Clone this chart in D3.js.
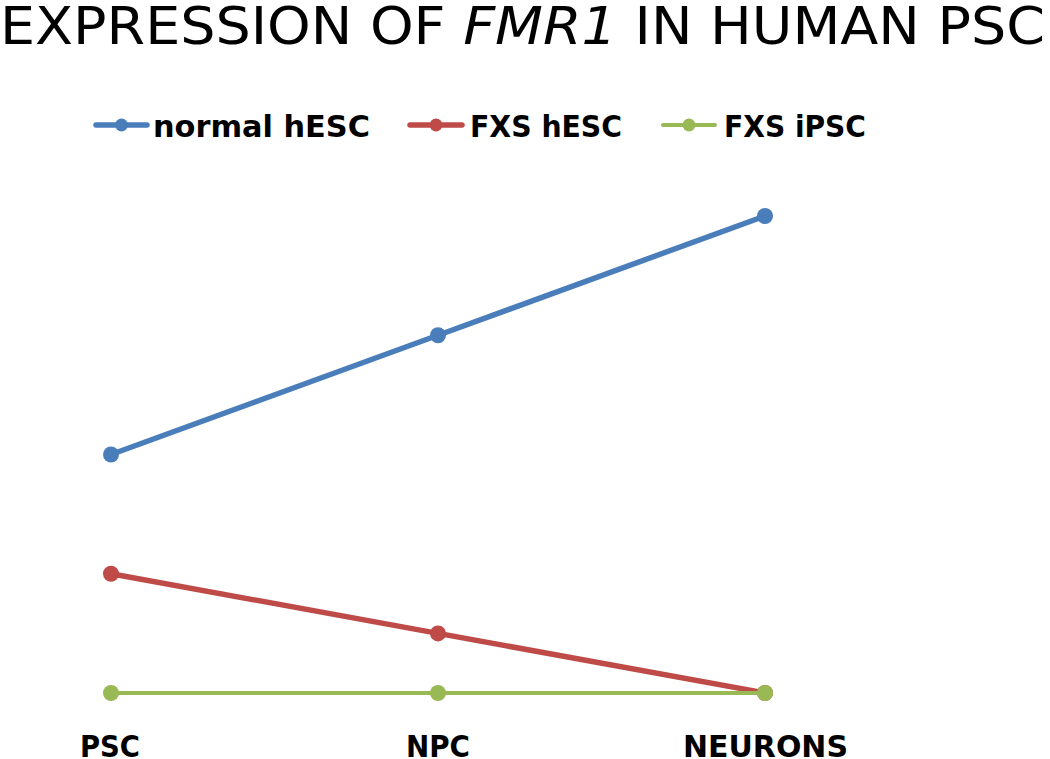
<!DOCTYPE html>
<html>
<head>
<meta charset="utf-8">
<script src="https://cdn.jsdelivr.net/npm/d3@7"></script>
<style>
  body { margin: 0; background: #fff; }
  svg { display: block; }
  text { font-family: "Liberation Sans Narrow", "DejaVu Sans Condensed", "Liberation Sans", sans-serif; fill: #000; }
</style>
</head>
<body>
<div id="chart"></div>
<script>
const width = 1050;
const height = 759;

// data
const stages = ["PSC", "NPC", "NEURONS"];
const seriesNames = ["normal hESC", "FXS hESC", "FXS iPSC"];
const normalHesc = [2, 3, 4];
const fxsHesc = [1, 0.5, 0];
const fxsIpsc = [0, 0, 0];
const colors = ["#4a7ebb", "#be4b48", "#98b954"];

const series = [
  {name: seriesNames[0], values: normalHesc, color: colors[0], w: 5.5},
  {name: seriesNames[1], values: fxsHesc, color: colors[1], w: 5.5},
  {name: seriesNames[2], values: fxsIpsc, color: colors[2], w: 4}
];

const xScale = d3.scalePoint()
  .domain(stages)
  .range([111, 765]);

const yScale = d3.scaleLinear()
  .domain([0, 4])
  .range([693, 216]);

const svg = d3.select("#chart")
  .append("svg")
  .attr("width", width)
  .attr("height", height);

// title
const title = svg.append("text")
  .attr("x", 0)
  .attr("y", 44)
  .attr("font-size", 52)
  .attr("textLength", 1045)
  .attr("lengthAdjust", "spacingAndGlyphs");
title.append("tspan").text("EXPRESSION OF ");
title.append("tspan").style("font-style", "italic").text("FMR1");
title.append("tspan").text(" IN HUMAN PSC");

// legend
const legendPos = [
  {x1: 96, x2: 147, tx: 153, tl: 217},
  {x1: 410, x2: 462, tx: 470, tl: 152},
  {x1: 663, x2: 715, tx: 724, tl: 142}
];
const legendY = 125;
series.forEach((s, i) => {
  const p = legendPos[i];
  const g = svg.append("g").attr("class", "legend-item");
  g.append("line")
    .attr("x1", p.x1).attr("x2", p.x2)
    .attr("y1", legendY).attr("y2", legendY)
    .attr("stroke", s.color)
    .attr("stroke-width", s.w)
    .attr("stroke-linecap", "round");
  g.append("circle")
    .attr("cx", (p.x1 + p.x2) / 2)
    .attr("cy", legendY)
    .attr("r", 6.5)
    .attr("fill", s.color);
  g.append("text")
    .attr("x", p.tx)
    .attr("y", legendY + 12)
    .attr("font-size", 31)
    .attr("font-weight", "bold")
    .attr("textLength", p.tl)
    .attr("lengthAdjust", "spacingAndGlyphs")
    .text(s.name);
});

// lines, drawn in series order so the green one sits on top
const line = d3.line()
  .x((d, i) => xScale(stages[i]))
  .y(d => yScale(d));

series.forEach(s => {
  const g = svg.append("g").attr("class", "series");
  g.append("path")
    .datum(s.values)
    .attr("fill", "none")
    .attr("stroke", s.color)
    .attr("stroke-width", s.w)
    .attr("stroke-linejoin", "round")
    .attr("d", line);
  g.selectAll("circle")
    .data(s.values)
    .enter()
    .append("circle")
    .attr("cx", (d, i) => xScale(stages[i]))
    .attr("cy", d => yScale(d))
    .attr("r", 8)
    .attr("fill", s.color);
});

// x axis labels (no axis line in the original)
const labelLen = {"PSC": 60, "NPC": 64, "NEURONS": 165};
const labelX = {"PSC": 80, "NPC": 406, "NEURONS": 683};
svg.append("g")
  .attr("id", "x-axis")
  .selectAll("text")
  .data(stages)
  .enter()
  .append("text")
  .attr("x", d => labelX[d])
  .attr("y", 757)
  .attr("font-size", 30)
  .attr("font-weight", "bold")
  .attr("textLength", d => labelLen[d])
  .attr("lengthAdjust", "spacingAndGlyphs")
  .text(d => d);
</script>
</body>
</html>
